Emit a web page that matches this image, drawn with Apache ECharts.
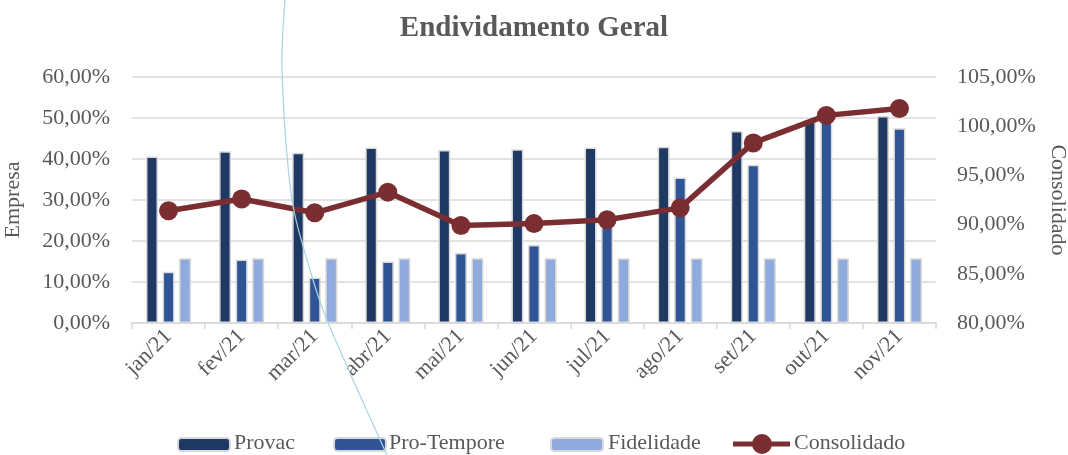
<!DOCTYPE html>
<html>
<head>
<meta charset="utf-8">
<script src="https://cdn.jsdelivr.net/npm/echarts@6/dist/echarts.min.js"></script>
<style>
html,body{margin:0;padding:0;background:#fff;}
#chart{width:1068px;height:455px;}
</style>
</head>
<body>
<div id="chart"></div>
<script>
const categories = ['jan/21','fev/21','mar/21','abr/21','mai/21','jun/21','jul/21','ago/21','set/21','out/21','nov/21'];
const provac = [40.6, 41.9, 41.5, 42.8, 42.2, 42.4, 42.8, 43.0, 46.8, 49.6, 50.5];
const proTempore = [12.5, 15.5, 11.1, 15.0, 17.1, 19.0, 24.0, 35.5, 38.6, 50.3, 47.5];
const fidelidade = [15.8, 15.8, 15.8, 15.8, 15.8, 15.8, 15.8, 15.8, 15.8, 15.8, 15.8];
const consolidado = [91.4, 92.6, 91.2, 93.3, 89.9, 90.1, 90.5, 91.7, 98.3, 101.1, 101.8];
const seriesNames = ['Provac', 'Pro-Tempore', 'Fidelidade', 'Consolidado'];

const FONT = 'Liberation Serif';
const GRAY = '#595959';
const LINE = '#7b2e31';
const fmt = v => v.toFixed(2).replace('.', ',') + '%';

const chart = echarts.init(document.getElementById('chart'));
const barStyle = c => ({ color: c, borderColor: '#d9d9d9', borderWidth: 1.5 });

// legend layout (icons via legend components, labels as text)
const legendIconLeft = [177, 333, 550, 733];
const legendTextLeft = [234, 389, 608, 794];

const legends = seriesNames.map((n, i) => {
  const isLine = i === 3;
  return {
    left: legendIconLeft[i],
    top: isLine ? 434 : 437,
    padding: 0,
    itemWidth: isLine ? 57 : 52,
    itemHeight: isLine ? 20 : 13,
    formatter: () => '',
    textStyle: { fontSize: 1 },
    itemGap: 0,
    data: [isLine ? {
      name: n,
      icon: 'path://M0,8h57v5h-57Z M19,10.5a10,10 0 1,1 20,0a10,10 0 1,1 -20,0Z',
      itemStyle: { color: LINE, borderWidth: 0 }
    } : n]
  };
});

const legendLabels = seriesNames.map((n, i) => ({
  type: 'text',
  left: legendTextLeft[i],
  top: 432,
  silent: true,
  style: { text: n, fontFamily: FONT, fontSize: 22, fill: GRAY }
}));

chart.setOption({
  animation: false,
  textStyle: { fontFamily: FONT },
  title: {
    text: 'Endividamento Geral',
    left: 'center',
    top: 9,
    textStyle: { fontFamily: FONT, fontSize: 29, fontWeight: 'bold', color: GRAY }
  },
  legend: legends,
  grid: { left: 132, right: 132, top: 77, bottom: 132, outerBoundsMode: 'none', containLabel: false },
  xAxis: {
    type: 'category',
    data: categories,
    axisLine: { lineStyle: { color: '#d9d9d9', width: 1.5 } },
    axisTick: { show: true, length: 6, lineStyle: { color: '#d9d9d9', width: 1.5 } },
    axisLabel: { rotate: 45, fontFamily: FONT, fontSize: 22, color: GRAY, margin: 10 }
  },
  yAxis: [
    {
      type: 'value', min: 0, max: 60, interval: 10,
      name: 'Empresa', nameLocation: 'middle', nameGap: 108, nameRotate: 90,
      nameTextStyle: { fontFamily: FONT, fontSize: 22, color: GRAY },
      axisLabel: { formatter: fmt, fontFamily: FONT, fontSize: 22, color: GRAY, margin: 22 },
      axisLine: { show: false }, axisTick: { show: false },
      splitLine: { lineStyle: { color: '#d9d9d9', width: 1.5 } }
    },
    {
      type: 'value', min: 80, max: 105, interval: 5,
      name: 'Consolidado', nameLocation: 'middle', nameGap: 108, nameRotate: -90,
      nameTextStyle: { fontFamily: FONT, fontSize: 22, color: GRAY },
      axisLabel: { formatter: fmt, fontFamily: FONT, fontSize: 22, color: GRAY, margin: 21 },
      axisLine: { show: false }, axisTick: { show: false },
      splitLine: { show: false }
    }
  ],
  series: [
    { name: 'Provac', type: 'bar', data: provac, barWidth: 12, barGap: '38%', itemStyle: barStyle('#1f3864') },
    { name: 'Pro-Tempore', type: 'bar', data: proTempore, barWidth: 12, barGap: '38%', itemStyle: barStyle('#2f5597') },
    { name: 'Fidelidade', type: 'bar', data: fidelidade, barWidth: 12, barGap: '38%', itemStyle: barStyle('#8faadc') },
    {
      name: 'Consolidado', type: 'line', yAxisIndex: 1, data: consolidado,
      symbol: 'circle', symbolSize: 19,
      lineStyle: { color: LINE, width: 5.5 },
      itemStyle: { color: LINE }
    }
  ],
  graphic: legendLabels.concat([{
    type: 'polyline',
    z: 100,
    silent: true,
    shape: { points: [[285, 0], [282, 70], [292, 200], [310, 270], [327, 320], [387, 455]], smooth: 0.3 },
    style: { stroke: '#a9d3e3', lineWidth: 1.2, fill: null }
  }])
});
</script>
</body>
</html>
